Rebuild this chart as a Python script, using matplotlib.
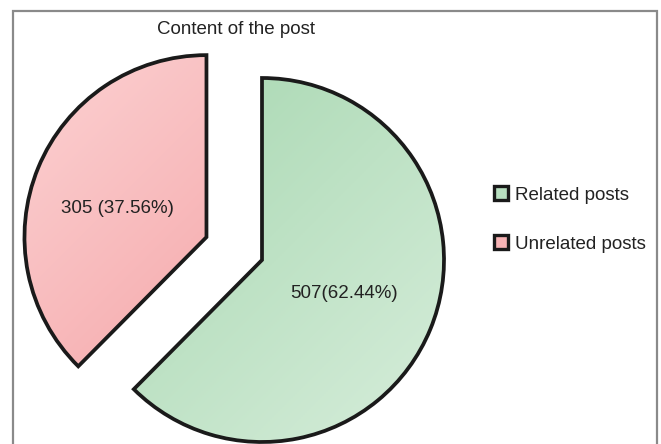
import numpy as np
import matplotlib
matplotlib.use("Agg")
import matplotlib.pyplot as plt
from matplotlib.patches import Patch, Rectangle
from matplotlib.colors import LinearSegmentedColormap

plt.rcParams['font.family'] = ['Liberation Sans', 'DejaVu Sans']

title = "Content of the post"
categories = ["Related posts", "Unrelated posts"]
values = [507, 305]
separators = ["", " "]
explode = [0.0, 0.33]
grad_colors = [("#a2d5ac", "#d8eedc"), ("#fcd3d4", "#f3979a")]
legend_colors = ["#b8e0c0", "#f8b4b6"]
label_dist = [0.49, 0.515]
label_turn = [0.0, 4.5]

FS = 13.5

fig = plt.figure(figsize=(6.61, 4.44), dpi=100)
ax = fig.add_axes([0, 0, 1, 1])
ax.set_aspect('auto')
ax.axis('off')

total = sum(values)
wedges, texts = ax.pie(values, explode=explode, startangle=90, counterclock=False,
                       radius=1.0, labels=None,
                       wedgeprops=dict(edgecolor='#1a1a1a', linewidth=2.7, facecolor='none'))

# gradient fills
for w, (c0, c1) in zip(wedges, grad_colors):
    cmap = LinearSegmentedColormap.from_list('g', [c0, c1])
    n = 200
    xx, yy = np.meshgrid(np.linspace(0, 1, n), np.linspace(0, 1, n))
    grad = (xx + yy) / 2.0  # top-left (row 0) -> bottom-right
    cx, cy = w.center
    im = ax.imshow(grad, cmap=cmap, extent=(cx - 1.05, cx + 1.05, cy - 1.05, cy + 1.05),
                   origin='upper', zorder=w.get_zorder() - 0.5, aspect='auto')
    im.set_clip_path(w)

ax.set_xlim(-262 / 182, (661 - 262) / 182)
ax.set_ylim(-184 / 182, (444 - 184) / 182)
ax.set_aspect('auto')

# labels
for w, v, sep, d, turn in zip(wedges, values, separators, label_dist, label_turn):
    ang = np.deg2rad((w.theta1 + w.theta2) / 2 + turn)
    cx, cy = w.center
    ax.text(cx + d * np.cos(ang), cy + d * np.sin(ang),
            f"{v}{sep}({v / total * 100:.2f}%)", ha='center', va='center',
            fontsize=FS, color='#222222', zorder=5)

fig.text(236 / 661, 1 - 30 / 444, title, ha='center', va='center',
         fontsize=FS, color='#222222')

handles = [Patch(facecolor=c, edgecolor='#1a1a1a', linewidth=2.4) for c in legend_colors]
fig.legend(handles, categories, loc='center left', bbox_to_anchor=(494 / 661, 1 - 219.5 / 444),
           frameon=False, fontsize=FS, handlelength=0.75, handleheight=0.75,
           handletextpad=0.35, labelspacing=1.7, borderaxespad=0, borderpad=0,
           labelcolor='#222222')

# frame
fig.patches.append(Rectangle((13 / 661, -0.05), (657 - 13) / 661, 1 - 11 / 444 + 0.05,
                             transform=fig.transFigure, fill=False,
                             edgecolor='#8a8a8a', linewidth=1.6, zorder=10))

fig.savefig("out.png", dpi=100)
